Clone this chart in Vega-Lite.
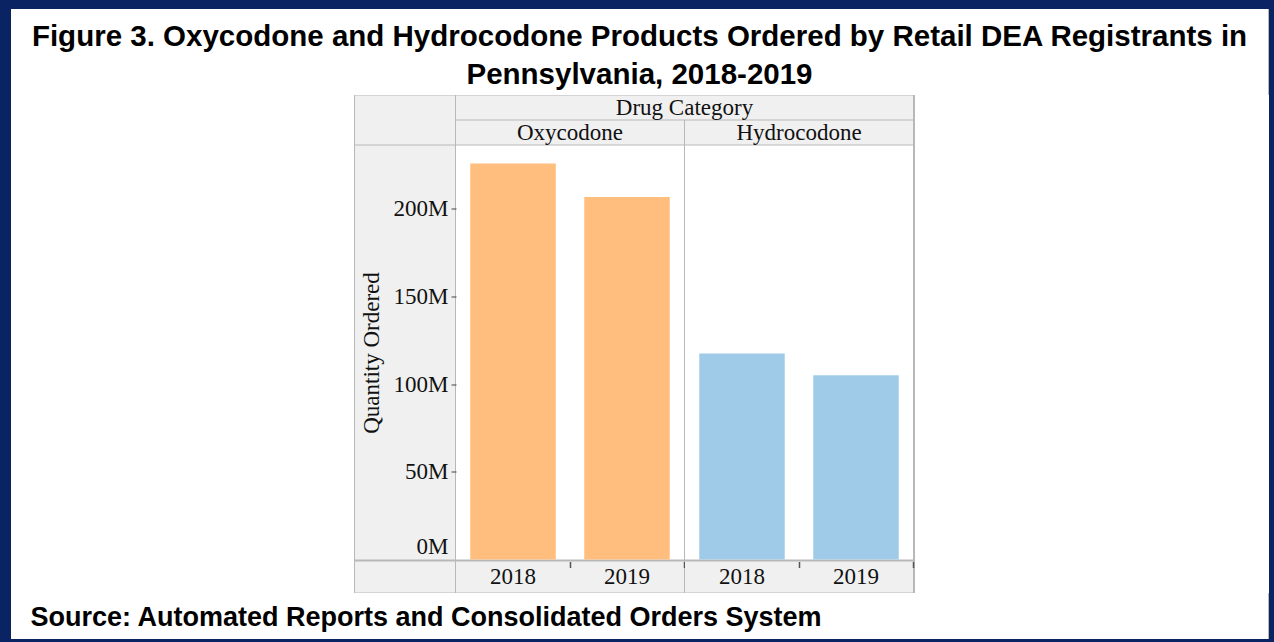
{
  "$schema": "https://vega.github.io/schema/vega-lite/v6.json",
  "background": "#b8b8b8",
  "padding": 0,
  "config": {
    "view": {"fill": "white", "stroke": null},
    "concat": {"spacing": 0},
    "font": "Liberation Serif",
    "text": {"font": "Liberation Serif", "fontSize": 23, "color": "#111111"}
  },
  "datasets": {
    "orders": [
      {"category": "Oxycodone", "year": "2018", "quantity": 225800000},
      {"category": "Oxycodone", "year": "2019", "quantity": 206700000},
      {"category": "Hydrocodone", "year": "2018", "quantity": 117400000},
      {"category": "Hydrocodone", "year": "2019", "quantity": 105000000}
    ],
    "empty": []
  },
  "spacing": 0,
  "vconcat": [
    {"width": 1274, "height": 9, "view": {"fill": "#0a2362", "stroke": null}, "data": {"name": "empty"}, "mark": "text", "encoding": {}},
    {
      "spacing": 0,
      "hconcat": [
        {"width": 11, "height": 630, "view": {"fill": "#0a2362", "stroke": null}, "data": {"name": "empty"}, "mark": "text", "encoding": {}},
        {
          "spacing": 0,
          "vconcat": [
            {
              "width": 1257,
              "height": 86,
              "view": {"fill": "white", "stroke": null},
              "data": {"values": [
                {"line": "1", "t": "Figure 3. Oxycodone and Hydrocodone Products Ordered by Retail DEA Registrants in"},
                {"line": "2", "t": "Pennsylvania, 2018-2019"}
              ]},
              "mark": {"type": "text", "font": "Liberation Sans", "fontWeight": "bold", "fontSize": 29.5, "color": "black", "baseline": "middle", "align": "center"},
              "encoding": {
                "y": {"field": "line", "type": "ordinal", "scale": {"type": "point", "padding": 0.632, "align": 0.5875}, "axis": null},
                "text": {"field": "t"}
              }
            },
            {
              "spacing": 1,
              "center": true,
              "hconcat": [
                {"width": 343, "height": 498, "view": {"fill": "white", "stroke": null}, "data": {"name": "empty"}, "mark": "text", "encoding": {}},
                {
                  "spacing": 1,
                  "vconcat": [
                    {
                      "spacing": 1,
                      "hconcat": [
                        {"width": 100, "height": 49, "view": {"fill": "#f0f0f0", "stroke": null}, "data": {"name": "empty"}, "mark": "text", "encoding": {}},
                        {
                          "spacing": 1,
                          "vconcat": [
                            {"width": 457, "height": 24, "view": {"fill": "#f0f0f0", "stroke": null}, "data": {"values": [{"label": "Drug Category"}]}, "mark": {"type": "text", "baseline": "middle"}, "encoding": {"text": {"field": "label"}}},
                            {
                              "spacing": 1,
                              "hconcat": [
                                {"width": 228, "height": 24, "view": {"fill": "#f0f0f0", "stroke": null}, "data": {"values": [{"label": "Oxycodone"}]}, "mark": {"type": "text", "baseline": "middle"}, "encoding": {"text": {"field": "label"}}},
                                {"width": 228, "height": 24, "view": {"fill": "#f0f0f0", "stroke": null}, "data": {"values": [{"label": "Hydrocodone"}]}, "mark": {"type": "text", "baseline": "middle"}, "encoding": {"text": {"field": "label"}}}
                              ]
                            }
                          ]
                        }
                      ]
                    },
                    {
                      "bounds": "flush",
                      "spacing": 1,
                      "hconcat": [
                        {"width": 100, "height": 414, "view": {"fill": "#f0f0f0", "stroke": null}, "data": {"name": "empty"}, "mark": "text", "encoding": {}},
                        {
                          "width": 228, "height": 414,
                          "view": {"fill": "white", "stroke": null},
                          "data": {"name": "orders"},
                          "transform": [{"filter": "datum.category === 'Oxycodone'"}],
                          "mark": {"type": "bar"},
                          "encoding": {
                            "x": {"field": "year", "type": "nominal", "scale": {"paddingInner": 0.25, "paddingOuter": 0.125}, "axis": null},
                            "y": {"field": "quantity", "type": "quantitative", "scale": {"domain": [0, 236000000], "nice": false},
                              "axis": {"orient": "left", "values": [0, 50000000, 100000000, 150000000, 200000000], "labelExpr": "format(datum.value / 1000000, 'd') + 'M'", "title": "Quantity Ordered", "grid": false, "domain": false, "ticks": true, "tickSize": 5, "tickColor": "#444444",
                                "tickWidth": {"condition": {"test": "datum.value === 0", "value": 0}, "value": 1},
                                "tickOpacity": {"condition": {"test": "datum.value === 0", "value": 0}, "value": 1},
                                "labelFont": "Liberation Serif", "labelFontSize": 23, "labelColor": "#111111", "labelPadding": 3, "labelFlush": true, "labelFlushOffset": -1, "titleFont": "Liberation Serif", "titleFontSize": 23, "titleFontWeight": "normal", "titleColor": "#111111", "titlePadding": 10}},
                            "color": {"field": "category", "type": "nominal", "scale": {"domain": ["Oxycodone", "Hydrocodone"], "range": ["#ffbe7d", "#a0cbe8"]}, "legend": null}
                          }
                        },
                        {
                          "width": 228, "height": 414,
                          "view": {"fill": "white", "stroke": null},
                          "data": {"name": "orders"},
                          "transform": [{"filter": "datum.category === 'Hydrocodone'"}],
                          "mark": {"type": "bar"},
                          "encoding": {
                            "x": {"field": "year", "type": "nominal", "scale": {"paddingInner": 0.25, "paddingOuter": 0.125}, "axis": null},
                            "y": {"field": "quantity", "type": "quantitative", "scale": {"domain": [0, 236000000], "nice": false}, "axis": null},
                            "color": {"field": "category", "type": "nominal", "scale": {"domain": ["Oxycodone", "Hydrocodone"], "range": ["#ffbe7d", "#a0cbe8"]}, "legend": null}
                          }
                        }
                      ]
                    },
                    {
                      "bounds": "flush",
                      "spacing": 1,
                      "hconcat": [
                        {"width": 100, "height": 31, "view": {"fill": "#f0f0f0", "stroke": null}, "data": {"name": "empty"}, "mark": "text", "encoding": {}},
                        {
                          "width": 228, "height": 31,
                          "view": {"fill": "#f0f0f0", "stroke": null},
                          "data": {"name": "orders"},
                          "transform": [{"filter": "datum.category === 'Oxycodone'"}],
                          "mark": {"type": "text", "baseline": "middle"},
                          "encoding": {
                            "x": {"field": "year", "type": "nominal", "scale": {"paddingInner": 0, "paddingOuter": 0},
                              "axis": {"orient": "bottom", "offset": -31, "values": ["2019"], "labels": false, "domain": false, "grid": false, "tickBand": "extent", "tickSize": 6, "tickWidth": 1.5, "tickColor": "#555555", "title": null}},
                            "text": {"field": "year"}
                          }
                        },
                        {
                          "width": 228, "height": 31,
                          "view": {"fill": "#f0f0f0", "stroke": null},
                          "data": {"name": "orders"},
                          "transform": [{"filter": "datum.category === 'Hydrocodone'"}],
                          "mark": {"type": "text", "baseline": "middle"},
                          "encoding": {
                            "x": {"field": "year", "type": "nominal", "scale": {"paddingInner": 0, "paddingOuter": 0},
                              "axis": {"orient": "bottom", "offset": -31, "values": ["2019"], "labels": false, "domain": false, "grid": false, "tickBand": "extent", "tickSize": 6, "tickWidth": 1.5, "tickColor": "#555555", "title": null}},
                            "text": {"field": "year"}
                          }
                        }
                      ]
                    }
                  ]
                },
                {"width": 354, "height": 498, "view": {"fill": "white", "stroke": null}, "data": {"name": "empty"}, "mark": "text", "encoding": {}}
              ]
            },
            {
              "spacing": 0,
              "hconcat": [
                {
                  "width": 830, "height": 46,
                  "view": {"fill": "white", "stroke": null},
                  "data": {"values": [{"t": "Source:  Automated Reports and Consolidated Orders System"}]},
                  "mark": {"type": "text", "font": "Liberation Sans", "fontWeight": "bold", "fontSize": 27, "color": "black", "baseline": "middle", "dy": 2},
                  "encoding": {"text": {"field": "t"}}
                },
                {"width": 427, "height": 46, "view": {"fill": "white", "stroke": null}, "data": {"name": "empty"}, "mark": "text", "encoding": {}}
              ]
            }
          ]
        },
        {"width": 6, "height": 630, "view": {"fill": "#0a2362", "stroke": null}, "data": {"name": "empty"}, "mark": "text", "encoding": {}}
      ]
    },
    {"width": 1274, "height": 3, "view": {"fill": "#0a2362", "stroke": null}, "data": {"name": "empty"}, "mark": "text", "encoding": {}}
  ]
}
